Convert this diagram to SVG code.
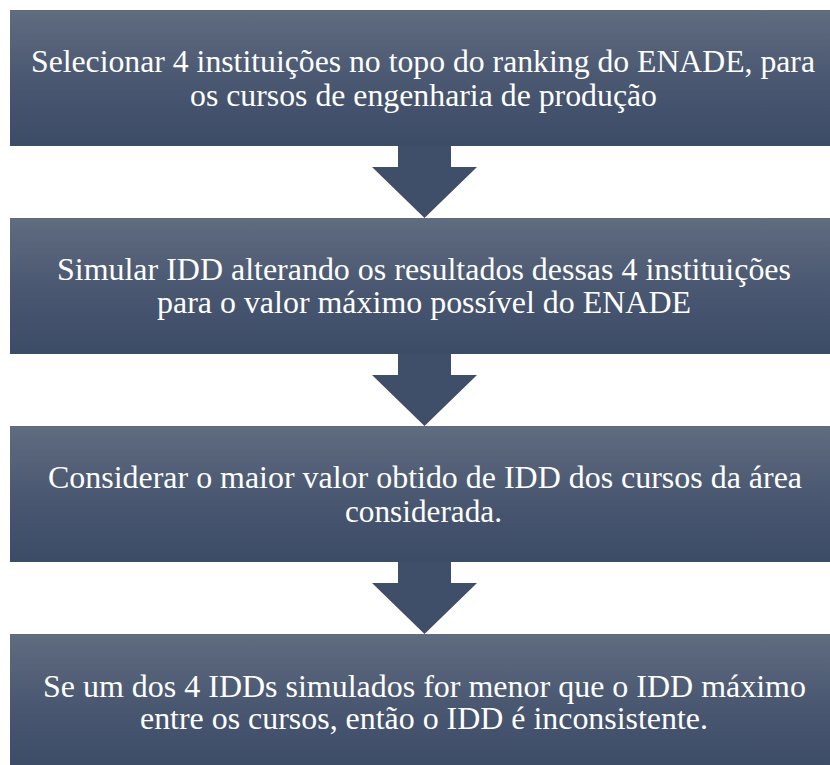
<svg xmlns="http://www.w3.org/2000/svg" width="830" height="765" viewBox="0 0 830 765">
<defs>
<linearGradient id="g" x1="0" y1="0" x2="0" y2="1">
<stop offset="0" stop-color="#606c7f"/>
<stop offset="0.5" stop-color="#4a5872"/>
<stop offset="1" stop-color="#3c4b66"/>
</linearGradient>
</defs>
<style>
.box{fill:url(#g);}
.arr{fill:#3f4e69;}
.t{font-family:"Liberation Serif","Times New Roman",serif;font-size:31px;fill:#ffffff;text-anchor:middle;}
</style>
<rect width="830" height="765" fill="#ffffff"/>
<g id="connectors">
<polygon class="arr" points="398,146 451,146 451,167 477,167 424.5,218 372,167 398,167"/>
<polygon class="arr" points="398,354 451,354 451,375 477,375 424.5,426 372,375 398,375"/>
<polygon class="arr" points="398,562 451,562 451,583 477,583 424.5,634 372,583 398,583"/>
</g>
<g id="n1">
<rect class="box" x="10" y="10" width="830" height="136"/>
<text class="t" x="423" y="72" textLength="784" lengthAdjust="spacingAndGlyphs">Selecionar 4 instituições no topo do ranking do ENADE, para</text>
<text class="t" x="423.5" y="106" textLength="467" lengthAdjust="spacingAndGlyphs">os cursos de engenharia de produção</text>
</g>
<g id="n2">
<rect class="box" x="10" y="218" width="830" height="136"/>
<text class="t" x="424" y="280" textLength="734" lengthAdjust="spacingAndGlyphs">Simular IDD alterando os resultados dessas 4 instituições</text>
<text class="t" x="424" y="313" textLength="534" lengthAdjust="spacingAndGlyphs">para o valor máximo possível do ENADE</text>
</g>
<g id="n3">
<rect class="box" x="10" y="426" width="830" height="136"/>
<text class="t" x="425" y="488" textLength="754" lengthAdjust="spacingAndGlyphs">Considerar o maior valor obtido de IDD dos cursos da área</text>
<text class="t" x="423.5" y="522" textLength="157" lengthAdjust="spacingAndGlyphs">considerada.</text>
</g>
<g id="n4">
<rect class="box" x="10" y="634" width="830" height="136"/>
<text class="t" x="424.5" y="697" textLength="763" lengthAdjust="spacingAndGlyphs">Se um dos 4 IDDs simulados for menor que o IDD máximo</text>
<text class="t" x="424" y="729" textLength="568" lengthAdjust="spacingAndGlyphs">entre os cursos, então o IDD é inconsistente.</text>
</g>
</svg>
